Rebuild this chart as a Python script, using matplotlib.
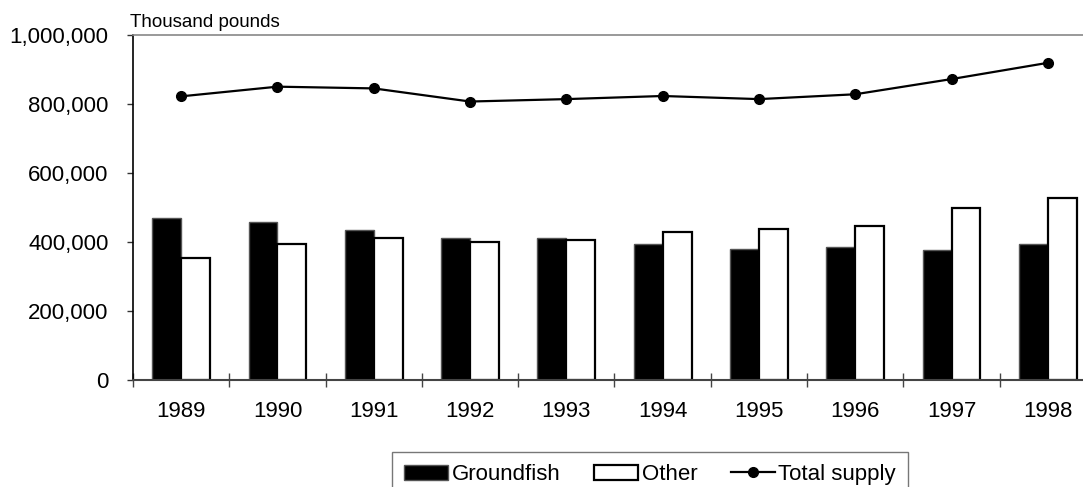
import matplotlib
matplotlib.use("Agg")
import matplotlib.pyplot as plt
import numpy as np
from matplotlib.ticker import FuncFormatter, FixedLocator

years = ["1989", "1990", "1991", "1992", "1993", "1994", "1995", "1996", "1997", "1998"]
groundfish = [470, 456, 435, 410, 411, 394, 379, 386, 376, 395]
other = [354, 395, 412, 398, 404, 429, 436, 445, 499, 526]
total_supply = [821, 849, 844, 806, 813, 822, 813, 827, 871, 918]
yticks = [0, 200000, 400000, 600000, 800000, 1000000]

plt.rcParams['font.family'] = ['Liberation Sans', 'DejaVu Sans']

W, H = 1083, 487
fig = plt.figure(figsize=(W / 100, H / 100), dpi=100)
ax = fig.add_axes([133 / W, 1 - 380 / H, 963 / W, 345.5 / H])

x = np.arange(len(years))
bw = 0.30
g = np.array(groundfish) * 1000
o = np.array(other) * 1000
t = np.array(total_supply) * 1000

b1 = ax.bar(x - bw / 2, g, bw, color='black', edgecolor='#555555', linewidth=1.0,
            label='Groundfish', zorder=2)
b2 = ax.bar(x + bw / 2, o, bw, color='white', edgecolor='black', linewidth=1.6,
            label='Other', zorder=2)
l1, = ax.plot(x, t, color='black', linewidth=1.6, marker='o', markersize=7,
              label='Total supply', zorder=3)

ax.set_xlim(-0.5, len(years) - 0.5)
ax.set_ylim(0, 1000000)
ax.set_yticks(yticks)
ax.yaxis.set_major_formatter(FuncFormatter(lambda v, p: f"{int(v):,}"))
ax.tick_params(axis='y', direction='out', length=4.5, width=1, color='#333333',
               labelsize=16, pad=13)

ax.set_xticks(x)
ax.set_xticklabels(years)
ax.tick_params(axis='x', which='major', length=0, labelsize=16, pad=15)
ax.xaxis.set_minor_locator(FixedLocator(np.arange(-0.5, len(years), 1.0)))
ax.tick_params(axis='x', which='minor', direction='inout', length=10, width=1,
               color='#444444')

ax.spines['left'].set_color('black')
ax.spines['left'].set_linewidth(1.2)
ax.spines['bottom'].set_color('#444444')
ax.spines['bottom'].set_linewidth(1.5)
ax.spines['top'].set_color('#888888')
ax.spines['top'].set_linewidth(1.2)
ax.spines['right'].set_visible(False)

fig.text(130 / W, 1 - 27 / H, "Thousand pounds", fontsize=13.5, va='baseline', ha='left')

leg = fig.legend([b1, b2, l1], ['Groundfish', 'Other', 'Total supply'],
                 loc='upper center', bbox_to_anchor=(650 / W, 1 - 452 / H), ncol=3,
                 frameon=True, fancybox=False, edgecolor='#555555', fontsize=16,
                 handlelength=2.0, handleheight=0.7, columnspacing=1.5,
                 handletextpad=0.15, borderpad=0.55, borderaxespad=0)
leg.get_frame().set_linewidth(1.0)

fig.savefig("out.png", dpi=100)
